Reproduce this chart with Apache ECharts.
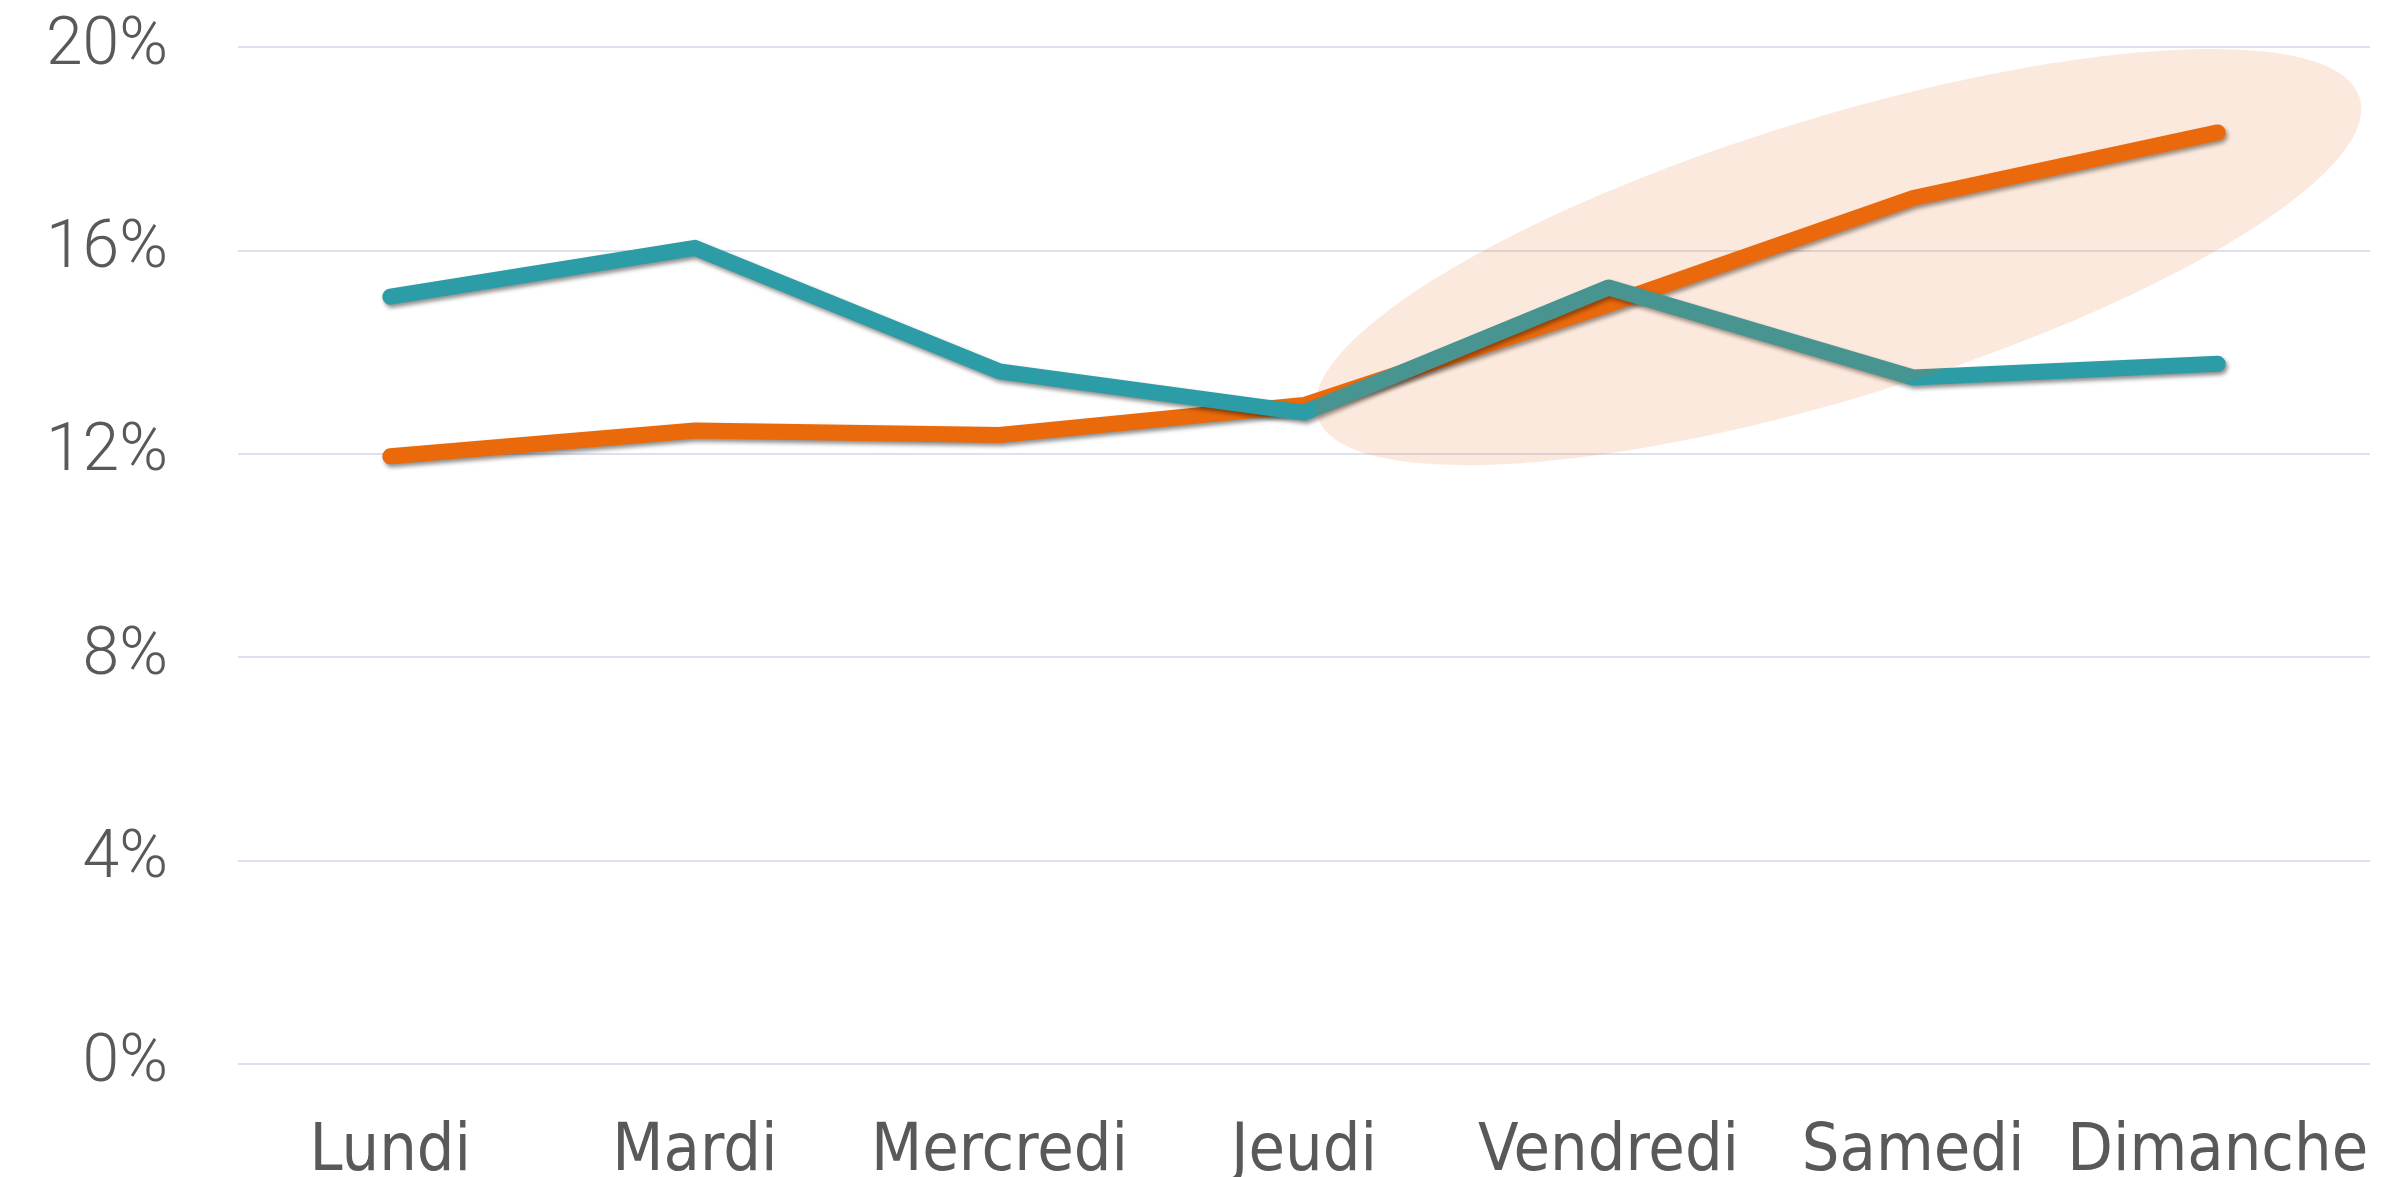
<!DOCTYPE html>
<html>
<head>
<meta charset="utf-8">
<script src="https://cdn.jsdelivr.net/npm/echarts@6/dist/echarts.min.js"></script>
<style>
  html, body { margin: 0; padding: 0; background: #fff; }
  #chart { width: 2387px; height: 1177px; }
</style>
</head>
<body>
<div id="chart"></div>
<script>
const days = ['Lundi', 'Mardi', 'Mercredi', 'Jeudi', 'Vendredi', 'Samedi', 'Dimanche']
const orangeValues = [11.95, 12.46, 12.37, 12.96, 14.94, 17.03, 18.32]
const tealValues = [15.09, 16.05, 13.62, 12.81, 15.27, 13.5, 13.77]
const yTicks = { min: 0, max: 20, interval: 4 }
// highlight zone, centre given in data units (category index, value)
const highlightCenter = [4.755, 15.87]

const myChart = echarts.init(document.getElementById('chart'))

const lineShadow = {
  shadowColor: 'rgba(0, 0, 0, 0.45)',
  shadowBlur: 4,
  shadowOffsetX: 2,
  shadowOffsetY: 3
}

myChart.setOption({
  animation: false,
  grid: {
    left: 238,
    right: 17,
    top: 47,
    bottom: 113,
    outerBoundsMode: 'none'
  },
  xAxis: {
    type: 'category',
    data: days,
    boundaryGap: true,
    axisLine: { show: false },
    axisTick: { show: false },
    axisLabel: {
      interval: 0,
      margin: 56,
      color: '#595959',
      fontSize: 66,
      fontFamily: '"Liberation Sans Narrow", "DejaVu Sans Condensed", "Liberation Sans", sans-serif'
    }
  },
  yAxis: {
    type: 'value',
    min: yTicks.min,
    max: yTicks.max,
    interval: yTicks.interval,
    axisLine: { show: false },
    axisTick: { show: false },
    axisLabel: {
      margin: 70,
      color: '#595959',
      fontSize: 66,
      fontWeight: 300,
      fontFamily: 'Roboto, "Open Sans", sans-serif',
      formatter: '{value}%'
    },
    splitLine: {
      lineStyle: { color: '#dde1ee', width: 2 }
    }
  },
  series: [
    {
      name: 'orange',
      type: 'line',
      data: orangeValues,
      symbol: 'none',
      lineStyle: Object.assign({ color: '#ea690a', width: 16, cap: 'round', join: 'round' }, lineShadow),
      itemStyle: { color: '#ea690a' },
      z: 2
    },
    {
      name: 'teal',
      type: 'line',
      data: tealValues,
      symbol: 'none',
      lineStyle: Object.assign({ color: '#2c9ca6', width: 16, cap: 'round', join: 'round' }, lineShadow),
      itemStyle: { color: '#2c9ca6' },
      z: 3
    }
  ]
})

// category axis rounds to whole indices, so interpolate between neighbours
const i0 = Math.floor(highlightCenter[0])
const p0 = myChart.convertToPixel({ xAxisIndex: 0, yAxisIndex: 0 }, [i0, highlightCenter[1]])
const p1 = myChart.convertToPixel({ xAxisIndex: 0, yAxisIndex: 0 }, [i0 + 1, highlightCenter[1]])
const cx = p0[0] + (p1[0] - p0[0]) * (highlightCenter[0] - i0)
const cy = p0[1]

myChart.setOption({
  graphic: [
    {
      type: 'ellipse',
      x: cx,
      y: cy,
      rotation: 17 * Math.PI / 180,
      shape: { cx: 0, cy: 0, rx: 545, ry: 140 },
      style: { fill: 'rgba(235, 110, 30, 0.15)' },
      z: 100,
      silent: true
    }
  ]
})
</script>
</body>
</html>
